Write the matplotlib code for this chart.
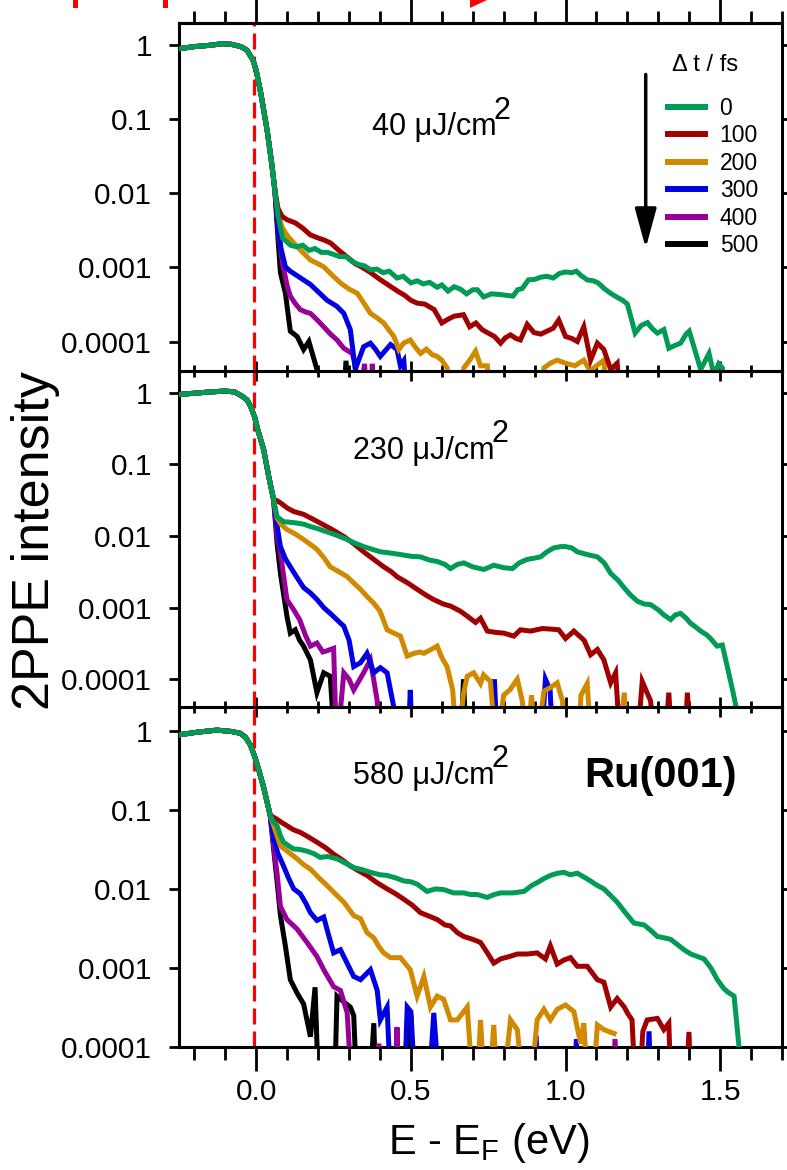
import matplotlib
matplotlib.use("Agg")

import matplotlib.pyplot as plt
import numpy as np
from matplotlib.patches import Polygon, Rectangle
from matplotlib.ticker import FixedLocator, FixedFormatter, NullLocator, NullFormatter

plt.rcParams["font.family"] = ["Liberation Sans", "DejaVu Sans"]
plt.rcParams["mathtext.fontset"] = "custom"
plt.rcParams["mathtext.rm"] = "Liberation Sans"
plt.rcParams["mathtext.it"] = "Liberation Sans"

# ---- data (E - E_F in eV, normalised 2PPE intensity) ----------------------
# values below the axis floor are written as 1e-5 (curve leaves the frame)
delays = ["0", "100", "200", "300", "400", "500"]
colors = ["#009b55", "#a00000", "#d18a00", "#0000e0", "#990099", "#000000"]
fluences = ["40", "230", "580"]

ytick_vals = [1, 0.1, 0.01, 0.001, 0.0001]
ytick_labels = ["1", "0.1", "0.01", "0.001", "0.0001"]
xtick_vals = [0.0, 0.5, 1.0, 1.5]
xtick_labels = ["0.0", "0.5", "1.0", "1.5"]

# 40 uJ/cm2 : shared Fermi edge
edge40_e = [-0.25, -0.2, -0.15, -0.11, -0.08, -0.05, -0.03, -0.01, 0.0, 0.015, 0.035, 0.05, 0.06]
edge40_i = [0.90, 0.96, 1.0, 1.05, 1.03, 0.96, 0.86, 0.62, 0.45, 0.22, 0.071, 0.025, 0.011]

f40_0_e = [0.07, 0.085, 0.11, 0.13, 0.15, 0.17, 0.19, 0.21, 0.23, 0.25, 0.27, 0.29, 0.31, 0.33,
           0.35, 0.37, 0.39, 0.41, 0.43, 0.455, 0.475, 0.5, 0.52, 0.54, 0.56, 0.585, 0.6, 0.62,
           0.64, 0.66, 0.68, 0.7, 0.715, 0.735, 0.76, 0.79, 0.81, 0.83, 0.845, 0.86, 0.88, 0.9,
           0.92, 0.94, 0.96, 0.98, 1.0, 1.02, 1.035, 1.05, 1.07, 1.09, 1.105, 1.125, 1.145,
           1.165, 1.185, 1.2, 1.225, 1.245, 1.265, 1.28, 1.297, 1.318, 1.334, 1.355, 1.372,
           1.39, 1.4, 1.437, 1.464, 1.48, 1.495, 1.507, 1.515]
f40_0_i = [0.0050, 0.0025, 0.0020, 0.0019, 0.0020, 0.0017, 0.0018, 0.0016, 0.0016, 0.0015,
           0.0014, 0.0014, 0.0012, 0.0011, 0.00105, 0.00093, 0.00095, 0.00085, 0.00089,
           0.00072, 0.00076, 0.00062, 0.00066, 0.0006, 0.00063, 0.00054, 0.00058, 0.00048,
           0.00055, 0.00051, 0.00044, 0.0005, 0.0005, 0.0004, 0.00044, 0.00043, 0.00042,
           0.00041, 0.0005, 0.00052, 0.00068, 0.00069, 0.00074, 0.00076, 0.00072, 0.00083,
           0.00087, 0.00085, 0.00089, 0.00078, 0.00068, 0.00066, 0.00062, 0.00052, 0.00045,
           0.0004, 0.00036, 0.00032, 0.00013, 0.000165, 0.00018, 0.00015, 0.00013, 0.000145,
           8.1e-5, 8.9e-5, 9.5e-5, 0.000126, 0.000138, 4.2e-5, 6.9e-5, 3.5e-5, 5e-5, 4.4e-5, 1e-5]

f40_100_e = [0.07, 0.083, 0.1, 0.126, 0.15, 0.175, 0.2, 0.22, 0.24, 0.27, 0.3, 0.32, 0.34, 0.37,
             0.4, 0.435, 0.46, 0.48, 0.5, 0.52, 0.545, 0.575, 0.6, 0.62, 0.64, 0.67, 0.69, 0.71,
             0.73, 0.747, 0.77, 0.79, 0.805, 0.822, 0.84, 0.854, 0.876, 0.898, 0.92, 0.94, 0.96,
             0.978, 1.0, 1.02, 1.038, 1.059, 1.081, 1.103, 1.124, 1.146, 1.167, 1.18]
f40_100_i = [0.0063, 0.0049, 0.0044, 0.0040, 0.0034, 0.00275, 0.0025, 0.00234, 0.00214, 0.00166,
             0.00132, 0.00112, 0.00102, 0.00085, 0.00069, 0.00055, 0.00047, 0.00042, 0.00036,
             0.00033, 0.00032, 0.00027, 0.000178, 0.0002, 0.00022, 0.00023, 0.000158, 0.000178,
             0.000145, 0.000132, 0.000117, 9.5e-5, 0.000112, 0.000123, 0.00011, 0.000105,
             0.00017, 0.000132, 0.000126, 0.000138, 0.000151, 0.000195, 0.000117, 0.00011,
             0.0001, 0.000158, 5.6e-5, 9.5e-5, 7.8e-5, 4.2e-5, 5.1e-5, 1e-5]

f40_200_e = [0.07, 0.083, 0.1, 0.121, 0.15, 0.175, 0.2, 0.218, 0.245, 0.272, 0.3, 0.326, 0.35,
             0.369, 0.39, 0.412, 0.43, 0.445, 0.461, 0.476, 0.498, 0.515, 0.531, 0.55, 0.57,
             0.585, 0.6, 0.617, 0.63, 0.66, 0.671, 0.69, 0.709, 0.725, 0.747, 0.76, 0.92, 0.93,
             0.951, 0.973, 1.0, 1.03, 1.059, 1.08, 1.1, 1.124, 1.135]
f40_200_i = [0.0056, 0.0035, 0.0027, 0.00214, 0.0016, 0.00126, 0.00112, 0.00102, 0.00079,
             0.00062, 0.00051, 0.00045, 0.00032, 0.00024, 0.00021, 0.000178, 0.000141, 0.000117,
             7.8e-5, 9.5e-5, 0.000105, 8.3e-5, 6.9e-5, 7.9e-5, 6.6e-5, 6.3e-5, 5.6e-5, 4.4e-5,
             1e-5, 1e-5, 4.4e-5, 5.6e-5, 7.4e-5, 4.7e-5, 4.7e-5, 1e-5, 1e-5, 4.4e-5, 5.1e-5,
             5.6e-5, 5.1e-5, 4.7e-5, 5.6e-5, 4.0e-5, 4.7e-5, 5.6e-5, 1e-5]

f40_300_e = [0.07, 0.08, 0.094, 0.11, 0.121, 0.15, 0.175, 0.2, 0.229, 0.26, 0.283, 0.304, 0.32,
             0.347, 0.369, 0.385, 0.401, 0.434, 0.455, 0.466, 0.477, 0.49]
f40_300_i = [0.0035, 0.0018, 0.00102, 0.00089, 0.00083, 0.00069, 0.00059, 0.00047, 0.00036,
             0.0003, 0.00024, 0.000145, 4.2e-5, 8.5e-5, 9.5e-5, 7.9e-5, 6.3e-5, 9.1e-5, 7.8e-5,
             4.7e-5, 5.5e-5, 1e-5]

f40_400_e = [0.07, 0.085, 0.1, 0.11, 0.125, 0.142, 0.16, 0.175, 0.2, 0.218, 0.24, 0.261, 0.283,
             0.31, 0.32, 0.33, 0.35, 0.36, 0.37, 0.375, 0.385]
f40_400_i = [0.0032, 0.00112, 0.00056, 0.00041, 0.00033, 0.00027, 0.00025, 0.00024, 0.00019,
             0.000158, 0.000126, 0.000105, 8.1e-5, 6.9e-5, 5e-5, 1e-5, 5e-5, 1e-5, 1e-5, 5e-5, 1e-5]

f40_500_e = [0.07, 0.078, 0.094, 0.11, 0.132, 0.153, 0.17, 0.196, 0.21, 0.28, 0.29, 0.3]
f40_500_i = [0.0025, 0.00085, 0.00045, 0.000138, 0.000117, 7.8e-5, 0.0001, 4.2e-5, 1e-5, 1e-5,
             5.5e-5, 1e-5]

# 230 uJ/cm2
edge230_e = [-0.25, -0.2, -0.15, -0.1, -0.07, -0.046, -0.03, -0.019, -0.005, 0.005, 0.024, 0.04, 0.056]
edge230_i = [0.94, 0.98, 1.02, 1.05, 1.02, 0.89, 0.79, 0.65, 0.45, 0.30, 0.158, 0.068, 0.032]

f230_0_e = [0.067, 0.088, 0.11, 0.132, 0.155, 0.175, 0.2, 0.22, 0.239, 0.265, 0.294, 0.32, 0.347,
            0.375, 0.401, 0.43, 0.466, 0.5, 0.531, 0.56, 0.585, 0.61, 0.628, 0.65, 0.671, 0.7,
            0.736, 0.768, 0.8, 0.828, 0.85, 0.876, 0.9, 0.919, 0.94, 0.962, 0.985, 1.0, 1.02,
            1.038, 1.07, 1.103, 1.125, 1.146, 1.17, 1.189, 1.21, 1.232, 1.255, 1.275, 1.3, 1.318,
            1.34, 1.355, 1.372, 1.39, 1.405, 1.42, 1.437, 1.455, 1.469, 1.49, 1.507, 1.523, 1.54,
            1.555]
f230_0_i = [0.0186, 0.0158, 0.0155, 0.0151, 0.0145, 0.0135, 0.0126, 0.0117, 0.011, 0.01, 0.0089,
            0.0079, 0.0071, 0.0065, 0.006, 0.0058, 0.0055, 0.0052, 0.0051, 0.0046, 0.0044, 0.004,
            0.0035, 0.004, 0.0042, 0.0037, 0.0034, 0.0039, 0.0036, 0.0035, 0.0042, 0.0047, 0.0049,
            0.0051, 0.006, 0.0068, 0.0071, 0.0071, 0.0068, 0.006, 0.0055, 0.0051, 0.0042, 0.003,
            0.0024, 0.0019, 0.0015, 0.00123, 0.00112, 0.0011, 0.00093, 0.00079, 0.00068, 0.00079,
            0.00083, 0.00071, 0.0006, 0.00054, 0.00047, 0.00042, 0.00037, 0.00029, 0.0003,
            0.00015, 7.1e-5, 3.5e-5]

f230_100_e = [0.067, 0.078, 0.1, 0.121, 0.153, 0.18, 0.207, 0.245, 0.283, 0.315, 0.347, 0.38,
              0.412, 0.435, 0.455, 0.49, 0.52, 0.55, 0.574, 0.605, 0.628, 0.66, 0.682, 0.709,
              0.725, 0.747, 0.775, 0.8, 0.833, 0.854, 0.887, 0.925, 0.955, 0.978, 1.0, 1.027,
              1.06, 1.081, 1.103, 1.124, 1.146, 1.162, 1.178, 1.23, 1.248, 1.275, 1.29, 1.32,
              1.334, 1.345, 1.385, 1.394, 1.405]
f230_100_i = [0.031, 0.029, 0.0245, 0.0219, 0.02, 0.0174, 0.0151, 0.0123, 0.0098, 0.0078, 0.006,
              0.0047, 0.0037, 0.0032, 0.0027, 0.0022, 0.0018, 0.00148, 0.00129, 0.00112, 0.00105,
              0.00089, 0.00076, 0.00062, 0.00071, 0.00047, 0.00045, 0.00044, 0.0004, 0.00049,
              0.00047, 0.00051, 0.0005, 0.00049, 0.00037, 0.00047, 0.00035, 0.00022, 0.00026,
              0.000186, 8.9e-5, 0.000123, 1e-5, 1e-5, 9.3e-5, 5e-5, 1e-5, 1e-5, 6.5e-5, 1e-5,
              1e-5, 6.5e-5, 1e-5]

f230_200_e = [0.067, 0.08, 0.099, 0.125, 0.153, 0.175, 0.196, 0.218, 0.239, 0.265, 0.294, 0.315,
              0.337, 0.36, 0.38, 0.4, 0.423, 0.445, 0.466, 0.488, 0.51, 0.53, 0.542, 0.565, 0.585,
              0.6, 0.617, 0.635, 0.65, 0.67, 0.682, 0.703, 0.725, 0.735, 0.757, 0.775, 0.8, 0.82,
              0.844, 0.86, 0.876, 0.89, 0.905, 0.93, 0.95, 0.973, 0.99, 1.0, 1.04, 1.05, 1.07,
              1.085, 1.17, 1.19, 1.2]
f230_200_i = [0.0178, 0.0145, 0.0123, 0.0107, 0.0089, 0.0076, 0.0065, 0.005, 0.0037, 0.0032,
              0.0027, 0.0022, 0.0018, 0.0014, 0.00115, 0.00089, 0.00049, 0.00044, 0.0004, 0.00021,
              0.00023, 0.00024, 0.00023, 0.00026, 0.00029, 0.0002, 0.00015, 7.1e-5, 1e-5, 6.3e-5,
              0.00011, 0.000123, 8.7e-5, 0.000115, 9.3e-5, 1e-5, 6e-5, 7.1e-5, 0.0001, 5e-5, 1e-5,
              6e-5, 1e-5, 6.8e-5, 7.6e-5, 8.9e-5, 5e-5, 1e-5, 1e-5, 6e-5, 8.7e-5, 1e-5, 1e-5,
              6.5e-5, 1e-5]

f230_300_e = [0.067, 0.078, 0.094, 0.11, 0.13, 0.153, 0.175, 0.196, 0.218, 0.239, 0.26, 0.283,
              0.3, 0.315, 0.337, 0.358, 0.38, 0.401, 0.423, 0.444, 0.46, 0.49, 0.498, 0.505, 0.76,
              0.77, 0.78, 0.92, 0.935, 0.95, 0.96]
f230_300_i = [0.014, 0.0071, 0.0048, 0.0037, 0.0027, 0.0019, 0.0016, 0.0013, 0.001, 0.00083,
              0.00068, 0.00055, 0.00035, 0.00015, 0.00017, 0.00023, 0.000123, 0.000145, 0.000123,
              4.2e-5, 1e-5, 1e-5, 7.1e-5, 1e-5, 1e-5, 0.0001, 1e-5, 1e-5, 0.0001, 7.1e-5, 1e-5]

f230_400_e = [0.067, 0.078, 0.099, 0.121, 0.14, 0.16, 0.175, 0.196, 0.215, 0.229, 0.25, 0.26,
              0.283, 0.3, 0.315, 0.347, 0.369, 0.391, 0.4]
f230_400_i = [0.01, 0.0058, 0.00129, 0.00093, 0.00068, 0.0004, 0.00029, 0.00032, 0.00024, 0.00025,
              0.00027, 1e-5, 0.000123, 0.0001, 7.1e-5, 0.000123, 0.000186, 5e-5, 1e-5]

f230_500_e = [0.067, 0.078, 0.099, 0.11, 0.126, 0.14, 0.153, 0.175, 0.196, 0.218, 0.239, 0.255,
              0.66, 0.67, 0.68]
f230_500_i = [0.008, 0.003, 0.00076, 0.00044, 0.00049, 0.00035, 0.00029, 0.000186, 6.5e-5,
              0.000123, 0.00011, 1e-5, 1e-5, 0.0001, 1e-5]

# 580 uJ/cm2
edge580_e = [-0.25, -0.2, -0.15, -0.127, -0.08, -0.052, -0.035, -0.019, -0.005, 0.008, 0.024, 0.045]
edge580_i = [0.89, 0.95, 1.0, 1.02, 0.98, 0.93, 0.83, 0.66, 0.47, 0.32, 0.19, 0.085]

f580_0_e = [0.056, 0.067, 0.078, 0.088, 0.105, 0.121, 0.14, 0.164, 0.185, 0.207, 0.23, 0.261,
            0.29, 0.315, 0.345, 0.369, 0.4, 0.423, 0.45, 0.477, 0.5, 0.52, 0.552, 0.58, 0.606,
            0.638, 0.671, 0.692, 0.714, 0.747, 0.77, 0.79, 0.83, 0.866, 0.89, 0.908, 0.93, 0.951,
            0.975, 0.995, 1.015, 1.038, 1.06, 1.081, 1.1, 1.124, 1.145, 1.167, 1.19, 1.221,
            1.254, 1.275, 1.297, 1.32, 1.34, 1.36, 1.383, 1.405, 1.426, 1.448, 1.47, 1.491, 1.51,
            1.523, 1.545, 1.566]
f580_0_i = [0.07, 0.063, 0.047, 0.039, 0.035, 0.032, 0.0316, 0.030, 0.028, 0.025, 0.0257, 0.024,
            0.021, 0.0186, 0.0174, 0.0162, 0.0151, 0.0148, 0.0138, 0.0126, 0.0123, 0.0115, 0.0093,
            0.01, 0.0098, 0.0089, 0.0089, 0.0085, 0.0085, 0.0078, 0.0085, 0.0089, 0.0089, 0.0093,
            0.011, 0.012, 0.0135, 0.0148, 0.0158, 0.0162, 0.0151, 0.0158, 0.0141, 0.0126, 0.0112,
            0.01, 0.0083, 0.0068, 0.0052, 0.0037, 0.0035, 0.003, 0.0025, 0.0024, 0.0023, 0.002,
            0.0017, 0.0015, 0.0014, 0.0013, 0.001, 0.00071, 0.00056, 0.0005, 0.00044, 6.3e-5]

f580_100_e = [0.067, 0.085, 0.099, 0.12, 0.142, 0.17, 0.196, 0.225, 0.25, 0.28, 0.304, 0.33,
              0.358, 0.39, 0.423, 0.45, 0.477, 0.505, 0.531, 0.56, 0.585, 0.61, 0.628, 0.65, 0.671,
              0.7, 0.725, 0.745, 0.768, 0.79, 0.82, 0.844, 0.875, 0.908, 0.935, 0.951, 0.973,
              0.995, 1.016, 1.038, 1.07, 1.103, 1.124, 1.146, 1.167, 1.19, 1.2, 1.215, 1.232, 1.25,
              1.264, 1.297, 1.318, 1.334, 1.345, 1.385, 1.399, 1.41]
f580_100_i = [0.076, 0.068, 0.063, 0.056, 0.052, 0.045, 0.039, 0.033, 0.0275, 0.023, 0.0195,
              0.017, 0.0148, 0.012, 0.01, 0.0087, 0.0074, 0.0062, 0.005, 0.0045, 0.0041, 0.0035,
              0.0034, 0.0028, 0.0025, 0.0023, 0.0021, 0.0016, 0.00115, 0.0013, 0.0014, 0.0015,
              0.0015, 0.00155, 0.0013, 0.0019, 0.00112, 0.00126, 0.00135, 0.00105, 0.00105,
              0.00071, 0.00066, 0.00032, 0.00041, 0.00032, 0.00027, 0.00022, 1e-5, 0.000158,
              0.00022, 0.00023, 0.000166, 0.0002, 1e-5, 1e-5, 0.000155, 1e-5]

f580_200_e = [0.056, 0.078, 0.105, 0.132, 0.155, 0.175, 0.2, 0.229, 0.255, 0.283, 0.315, 0.337,
              0.358, 0.38, 0.395, 0.412, 0.434, 0.466, 0.498, 0.52, 0.542, 0.563, 0.585, 0.606,
              0.628, 0.65, 0.682, 0.709, 0.725, 0.745, 0.768, 0.785, 0.822, 0.844, 0.876, 0.908,
              0.93, 0.951, 0.973, 1.0, 1.027, 1.049, 1.059, 1.08, 1.103, 1.124, 1.157]
f580_200_i = [0.063, 0.035, 0.029, 0.024, 0.02, 0.0178, 0.0141, 0.011, 0.0087, 0.0068, 0.0046,
              0.0042, 0.0028, 0.0024, 0.0019, 0.00155, 0.00135, 0.00135, 0.00095, 0.00044,
              0.00078, 0.00032, 0.00044, 0.0004, 0.00022, 0.00022, 0.00032, 1e-5, 0.00022, 1e-5,
              0.00019, 1e-5, 0.00022, 0.000166, 1e-5, 0.00022, 0.0003, 0.00022, 0.0003, 0.00034,
              0.00028, 0.00011, 0.0002, 1e-5, 0.00019, 0.000166, 0.000148]

f580_300_e = [0.056, 0.07, 0.088, 0.105, 0.121, 0.142, 0.16, 0.175, 0.196, 0.218, 0.235, 0.25,
              0.272, 0.295, 0.315, 0.337, 0.369, 0.391, 0.401, 0.423, 0.44, 0.475, 0.488, 0.5,
              0.52, 0.55, 0.574, 0.6, 0.895, 0.905, 0.915, 1.025, 1.035, 1.045, 1.26, 1.27, 1.28]
f580_300_i = [0.043, 0.028, 0.0195, 0.0135, 0.01, 0.0087, 0.0066, 0.005, 0.004, 0.0044, 0.0025,
              0.00155, 0.0017, 0.00112, 0.00078, 0.00071, 0.00095, 0.00052, 0.00022, 0.00032,
              1e-5, 1e-5, 0.00032, 0.00028, 1e-5, 1e-5, 0.00027, 1e-5, 1e-5, 0.00014, 1e-5, 1e-5,
              0.000126, 1e-5, 1e-5, 0.000158, 1e-5]

f580_400_e = [0.056, 0.067, 0.078, 0.099, 0.132, 0.164, 0.196, 0.218, 0.25, 0.272, 0.294, 0.315,
              0.39, 0.396, 0.4, 0.45, 0.455, 0.46, 1.15, 1.16, 1.17]
f580_400_i = [0.035, 0.0158, 0.006, 0.0041, 0.0031, 0.0021, 0.0014, 0.00095, 0.00058, 0.00052,
              0.00027, 1e-5, 1e-5, 0.00011, 1e-5, 1e-5, 0.000178, 1e-5, 1e-5, 0.000126, 1e-5]

f580_500_e = [0.056, 0.067, 0.078, 0.094, 0.11, 0.132, 0.153, 0.175, 0.19, 0.205, 0.25, 0.261,
              0.28, 0.304, 0.315, 0.33, 0.36, 0.38, 0.39, 0.49, 0.5, 0.51]
f580_500_i = [0.032, 0.0126, 0.0046, 0.0019, 0.00071, 0.00048, 0.00035, 0.000135, 0.00057, 1e-5,
              1e-5, 0.00044, 0.00038, 0.00032, 0.00025, 1e-5, 1e-5, 0.0002, 1e-5, 1e-5, 0.00025,
              1e-5]

panels = [
    ("40", edge40_e, edge40_i,
     [(f40_0_e, f40_0_i), (f40_100_e, f40_100_i), (f40_200_e, f40_200_i),
      (f40_300_e, f40_300_i), (f40_400_e, f40_400_i), (f40_500_e, f40_500_i)]),
    ("230", edge230_e, edge230_i,
     [(f230_0_e, f230_0_i), (f230_100_e, f230_100_i), (f230_200_e, f230_200_i),
      (f230_300_e, f230_300_i), (f230_400_e, f230_400_i), (f230_500_e, f230_500_i)]),
    ("580", edge580_e, edge580_i,
     [(f580_0_e, f580_0_i), (f580_100_e, f580_100_i), (f580_200_e, f580_200_i),
      (f580_300_e, f580_300_i), (f580_400_e, f580_400_i), (f580_500_e, f580_500_i)]),
]

W, H = 787, 1170
left, width = 179 / W, (782 - 179) / W
rows = [(23, 371, 4.0e-5), (371, 707, 4.1e-5), (707, 1047, 1.0e-4)]   # top px, bottom px, ymin
label_pos = [(0.32, 0.70), (0.289, 0.762), (0.289, 0.797)]
minor_x = np.arange(-0.2, 1.75, 0.1)

fig = plt.figure(figsize=(W / 100, H / 100), dpi=100)

axes = []
for k, (top, bot, ymin) in enumerate(rows):
    ax = fig.add_axes([left, 1 - bot / H, width, (bot - top) / H])
    ax.set_facecolor("none")
    ax.set_yscale("log")
    ax.set_xlim(-0.25, 1.7)
    ax.set_ylim(ymin, 2.0)
    axes.append(ax)

    fl, e_edge, i_edge, tails = panels[k]
    # later delays first so the 0 fs curve ends up on top
    for j in range(len(delays) - 1, -1, -1):
        te, ti = tails[j]
        e = np.concatenate([e_edge, te])
        i = np.concatenate([i_edge, ti])
        ax.plot(e, i, color=colors[j], lw=3.6, label=delays[j],
                solid_joinstyle="miter", zorder=3 + (len(delays) - j) * 0.1)

    ax.axvline(-0.008, color="#ff0000", lw=2.3, ls=(0, (5, 2.2)), zorder=2)

    ax.yaxis.set_major_locator(FixedLocator(ytick_vals))
    ax.yaxis.set_major_formatter(FixedFormatter(ytick_labels))
    ax.yaxis.set_minor_locator(NullLocator())
    ax.xaxis.set_major_locator(FixedLocator(xtick_vals))
    ax.xaxis.set_minor_locator(FixedLocator(minor_x))
    ax.tick_params(axis="y", which="major", direction="out", left=True, right=True,
                   length=7.5, width=2.0, labelsize=21.5, pad=12)

    if k == 2:
        # outer bottom edge: long outward ticks with labels
        ax.xaxis.set_major_formatter(FixedFormatter(xtick_labels))
        ax.tick_params(axis="x", which="major", direction="out", top=False, bottom=True,
                       length=17, width=2.0, labelsize=21.5, pad=5)
        ax.tick_params(axis="x", which="minor", direction="out", top=False, bottom=True,
                       length=9, width=2.0)
    else:
        # shared boundary with the panel below: short ticks on both sides
        ax.xaxis.set_major_formatter(NullFormatter())
        ax.tick_params(axis="x", which="major", direction="inout", top=False, bottom=True,
                       length=15, width=2.0)
        ax.tick_params(axis="x", which="minor", direction="inout", top=False, bottom=True,
                       length=8, width=2.0)
    for s in ax.spines.values():
        s.set_linewidth(2.2)

    tx, ty = label_pos[k]
    t = ax.text(tx, ty, f"{fl} \u03bcJ/cm", transform=ax.transAxes, fontsize=22,
                ha="left", va="center")
    ax.annotate("2", xy=(1.0, 0.0), xycoords=t, xytext=(-2, 12), textcoords="offset points",
                fontsize=22, ha="left", va="bottom")

# top edge of the first panel: long outward ticks, no labels
sec = axes[0].secondary_xaxis("top")
sec.xaxis.set_major_locator(FixedLocator(xtick_vals))
sec.xaxis.set_minor_locator(FixedLocator(minor_x))
sec.xaxis.set_major_formatter(NullFormatter())
sec.tick_params(axis="x", which="major", direction="out", length=17, width=2.0)
sec.tick_params(axis="x", which="minor", direction="out", length=9, width=2.0)
sec.spines["top"].set_linewidth(2.2)

# legend + arrow in the top panel
ax0 = axes[0]
handles, labels = ax0.get_legend_handles_labels()
order = [labels.index(d) for d in delays]
leg = ax0.legend([handles[o] for o in order], [labels[o] for o in order],
                 loc="upper left", bbox_to_anchor=(0.811, 0.787),
                 frameon=False, fontsize=16.5, handlelength=1.6,
                 handletextpad=0.65, labelspacing=0.19, borderpad=0.0, borderaxespad=0.0)
for h in leg.legend_handles:
    h.set_linewidth(4.3)
ax0.text(0.872, 0.879, "\u0394 t / fs", transform=ax0.transAxes, fontsize=17,
         ha="center", va="center")
ax0.annotate("", xy=(0.774, 0.345), xytext=(0.774, 0.86), xycoords="axes fraction",
             arrowprops=dict(arrowstyle="-|>,head_length=1.1,head_width=0.3",
                             mutation_scale=22, lw=2.5, color="k"))

axes[2].text(0.672, 0.797, "Ru(001)", transform=axes[2].transAxes, fontsize=30,
             fontweight="bold", ha="left", va="center")

fig.text(0.045, 0.538, "2PPE intensity", rotation=90, fontsize=37.5, ha="center", va="center")
fig.text(0.621, 0.023, r"E - E$_{\mathrm{F}}$ (eV)", fontsize=30, ha="center", va="center")

# red fragments of the figure above, cut by the top edge
for x0 in (73, 163):
    fig.add_artist(Rectangle((x0 / W, 1 - 8 / H), 5 / W, 8 / H, transform=fig.transFigure,
                             color="#ff0000", lw=0))
fig.add_artist(Polygon([(470 / W, 1.0), (487 / W, 1.0), (470 / W, 1 - 8 / H)], closed=True,
                       transform=fig.transFigure, color="#ff0000", lw=0))

fig.savefig("out.png", dpi=100)
